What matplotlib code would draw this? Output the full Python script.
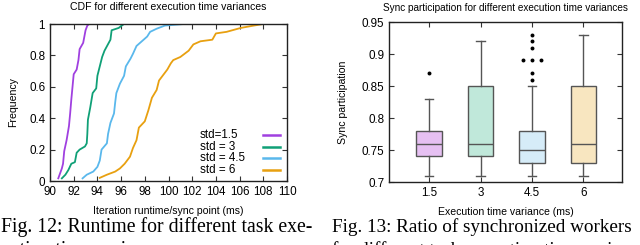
import matplotlib
matplotlib.use("Agg")
import matplotlib.pyplot as plt

# ---------------- data ----------------
cdf_labels = ["std=1.5", "std = 3", "std = 4.5", "std = 6"]
cdf_colors = ["#a040e0", "#10a077", "#5ab8ec", "#e8a010"]

x15 = [90.7, 91.0, 91.1, 91.2, 91.4, 91.6, 91.7, 91.8, 91.9, 92.0, 92.25, 92.4, 92.5, 92.8, 92.9, 93.0, 93.15, 93.3]
y15 = [0.017, 0.08, 0.11, 0.19, 0.26, 0.35, 0.43, 0.52, 0.60, 0.68, 0.71, 0.77, 0.84, 0.88, 0.92, 0.96, 0.99, 1.0]

x3 = [91.0, 91.3, 91.55, 91.8, 92.1, 92.25, 92.5, 92.95, 93.1, 93.15, 93.2, 93.4, 93.6, 93.9, 94.0, 94.2, 94.4, 94.6, 95.1, 95.2, 95.8, 96.05, 96.25]
y3 = [0.017, 0.04, 0.07, 0.11, 0.12, 0.18, 0.20, 0.22, 0.24, 0.30, 0.39, 0.47, 0.56, 0.59, 0.67, 0.73, 0.79, 0.83, 0.90, 0.96, 0.975, 0.99, 1.0]

x45 = [92.75, 93.1, 93.65, 94.0, 94.2, 94.35, 94.8, 94.9, 95.1, 95.4, 95.5, 95.6, 95.9, 96.25, 96.4, 96.8, 97.0, 97.3, 97.75, 98.2, 98.45, 99.0, 99.7, 101.3]
y45 = [0.017, 0.04, 0.06, 0.09, 0.13, 0.20, 0.24, 0.30, 0.37, 0.43, 0.50, 0.56, 0.62, 0.67, 0.73, 0.78, 0.81, 0.86, 0.89, 0.92, 0.95, 0.97, 0.99, 1.0]

x6 = [94.2, 94.8, 95.5, 95.9, 96.3, 96.75, 97.0, 97.3, 97.5, 98.0, 98.3, 98.6, 99.0, 99.2, 99.6, 99.9, 100.2, 100.4, 101.0, 101.7, 102.1, 102.7, 103.7, 104.0, 104.9, 106.1, 107.2, 108.0]
y6 = [0.02, 0.04, 0.06, 0.08, 0.11, 0.155, 0.21, 0.26, 0.34, 0.38, 0.45, 0.53, 0.58, 0.64, 0.68, 0.71, 0.75, 0.77, 0.79, 0.83, 0.87, 0.89, 0.90, 0.94, 0.95, 0.975, 0.99, 1.0]

cdf_x = [x15, x3, x45, x6]
cdf_y = [y15, y3, y45, y6]

box_labels = ["1.5", "3", "4.5", "6"]
box_whislo = [0.71, 0.71, 0.71, 0.71]
box_q1 = [0.74, 0.74, 0.73, 0.73]
box_med = [0.76, 0.76, 0.75, 0.76]
box_q3 = [0.78, 0.85, 0.78, 0.85]
box_whishi = [0.83, 0.92, 0.85, 0.93]
box_fliers = [[0.87], [], [0.86, 0.87, 0.89, 0.89, 0.89, 0.91, 0.92, 0.93], []]
box_fill = ["#e6c0f2", "#c0e8da", "#d6ecf8", "#f8e6c0"]

# ---------------- figure ----------------
W, H = 640, 245
fig = plt.figure(figsize=(W / 100, H / 100), dpi=100)
plt.rcParams["font.family"] = ["Liberation Sans", "DejaVu Sans"]

TICK_FS = 8.4
LAB_FS = 7.6

def px_axes(l, t, r, b):
    return fig.add_axes([l / W, 1 - b / H, (r - l) / W, (b - t) / H])

def gp_style(ax):
    ax.tick_params(direction="in", top=True, right=True, labelsize=TICK_FS,
                   length=3.5, width=0.8, color="#333333", pad=3.5)
    for s in ax.spines.values():
        s.set_linewidth(1.0)
        s.set_color("#222222")

# left: CDF
ax1 = px_axes(50, 24, 287, 181)
lines = []
for xs, ys, c, lab in zip(cdf_x, cdf_y, cdf_colors, cdf_labels):
    ln, = ax1.plot(xs, ys, color=c, lw=1.3, label=lab)
    lines.append(ln)
ax1.set_xlim(90, 110)
ax1.set_ylim(0, 1)
ax1.set_xticks(range(90, 111, 2))
ax1.set_yticks([0, 0.2, 0.4, 0.6, 0.8, 1])
ax1.set_yticklabels(["0", "0.2", "0.4", "0.6", "0.8", "1"])
gp_style(ax1)
ax1.set_title("CDF for different execution time variances", fontsize=LAB_FS, pad=10)
ax1.set_xlabel("Iteration runtime/sync point (ms)", fontsize=LAB_FS, labelpad=6)
ax1.set_ylabel("Frequency", fontsize=LAB_FS, labelpad=8)

# gnuplot-like key: labels left-aligned, samples on the right
key_rows_y = [0.293, 0.217, 0.146, 0.07]
for ln, ky in zip(lines, key_rows_y):
    ax1.text(0.633, ky, ln.get_label(), transform=ax1.transAxes, fontsize=TICK_FS,
             ha="left", va="center")
    ax1.plot([0.90, 0.97], [ky, ky], transform=ax1.transAxes, color=ln.get_color(),
             lw=1.8, clip_on=False)

# right: boxplot
ax2 = px_axes(389, 22, 622, 182)
stats = []
for i in range(len(box_labels)):
    stats.append(dict(med=box_med[i], q1=box_q1[i], q3=box_q3[i],
                      whislo=box_whislo[i], whishi=box_whishi[i], fliers=[]))
pos = list(range(1, len(box_labels) + 1))
bp = ax2.bxp(stats, positions=pos, widths=0.5, patch_artist=True, showfliers=False,
             boxprops=dict(edgecolor="#555555", linewidth=1.0),
             medianprops=dict(color="#555555", linewidth=1.0),
             whiskerprops=dict(color="#555555", linewidth=1.0),
             capprops=dict(color="#555555", linewidth=1.0),
             capwidths=0.16)
for patch, fc in zip(bp["boxes"], box_fill):
    patch.set_facecolor(fc)
# outliers; identical values are spread sideways like gnuplot
for p, fl in zip(pos, box_fliers):
    seen = {}
    for v in fl:
        seen[v] = seen.get(v, 0) + 1
    for v, n in seen.items():
        offs = [(k - (n - 1) / 2) * 0.18 for k in range(n)]
        ax2.scatter([p + o for o in offs], [v] * n, s=8, color="black", zorder=5,
                    linewidths=0)
ax2.set_xlim(0.22, 4.75)
ax2.set_ylim(0.7, 0.95)
ax2.set_xticks(pos)
ax2.set_xticklabels(box_labels)
ax2.set_yticks([0.7, 0.75, 0.8, 0.85, 0.9, 0.95])
ax2.set_yticklabels(["0.7", "0.75", "0.8", "0.85", "0.9", "0.95"])
gp_style(ax2)
ax2.set_title("Sync participation for different execution time variances", fontsize=7.2, pad=8)
ax2.set_xlabel("Execution time variance (ms)", fontsize=LAB_FS, labelpad=6)
ax2.set_ylabel("Sync participation", fontsize=LAB_FS, labelpad=10)

# captions
serif = ["Liberation Serif", "DejaVu Serif"]
fig.text(1 / W, 1 - 227 / H, "Fig. 12: Runtime for different task exe-", family=serif,
         fontsize=14.2, va="center", ha="left")
fig.text(332 / W, 1 - 227 / H, "Fig. 13: Ratio of synchronized workers", family=serif,
         fontsize=13.8, va="center", ha="left")
fig.text(1 / W, 1 - 250 / H, "cution time variances.", family=serif,
         fontsize=14.2, va="center", ha="left")
fig.text(332 / W, 1 - 250 / H, "for different task execution time variances.", family=serif,
         fontsize=13.8, va="center", ha="left")

fig.savefig("out.png", dpi=100)
